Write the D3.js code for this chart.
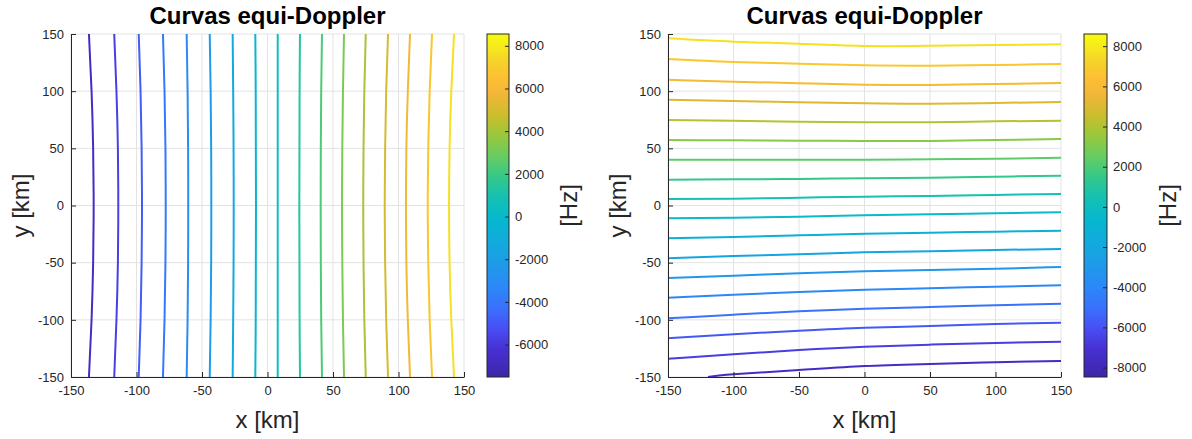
<!DOCTYPE html>
<html>
<head>
<meta charset="utf-8">
<script src="https://d3js.org/d3.v7.min.js"></script>
<style>
  body { margin: 0; background: #fff; }
  text { font-family: "Liberation Sans", Arial, Helvetica, sans-serif; fill: #262626; }
</style>
</head>
<body>
<svg id="chart" width="1192" height="439"></svg>
<script>
// ---- data ----
const axisTicks = [-150, -100, -50, 0, 50, 100, 150];

// left panel: near-vertical equi-Doppler curves, x [km] sampled at these y [km]
const leftYs = [150, 100, 50, 0, -50, -100, -150];
const leftLevels = [-6625, -5732, -4839, -3946, -3053, -2160, -1267, -374, 519,
                    1412, 2305, 3198, 4091, 4984, 5877, 6770, 7663];
const leftXs = [
  [-136.3, -134.3, -133.1, -132.7, -133.1, -134.3, -136.3],
  [-117.0, -115.3, -114.2, -113.9, -114.2, -115.3, -117.0],
  [-98.3, -96.9, -96.1, -95.8, -96.1, -96.9, -98.3],
  [-79.8, -78.6, -77.9, -77.7, -77.9, -78.6, -79.8],
  [-61.7, -61.0, -60.6, -60.5, -60.6, -61.0, -61.7],
  [-44.1, -43.4, -43.0, -42.9, -43.0, -43.4, -44.1],
  [-26.6, -26.2, -25.9, -25.8, -25.9, -26.2, -26.6],
  [-9.3, -9.0, -8.9, -8.8, -8.9, -9.0, -9.3],
  [7.8, 7.8, 7.8, 7.8, 7.8, 7.8, 7.8],
  [24.8, 24.5, 24.4, 24.3, 24.4, 24.5, 24.8],
  [41.6, 41.0, 40.7, 40.6, 40.7, 41.0, 41.6],
  [58.4, 57.6, 57.1, 56.9, 57.1, 57.6, 58.4],
  [75.0, 73.9, 73.3, 73.1, 73.3, 73.9, 75.0],
  [92.0, 90.6, 89.8, 89.5, 89.8, 90.6, 92.0],
  [108.8, 107.1, 106.0, 105.7, 106.0, 107.1, 108.8],
  [125.6, 123.8, 122.7, 122.3, 122.7, 123.8, 125.6],
  [142.4, 140.3, 139.0, 138.6, 139.0, 140.3, 142.4]
];
const leftRange = [-7518, 8553];
const leftCbTicks = [-6000, -4000, -2000, 0, 2000, 4000, 6000, 8000];

// right panel: near-horizontal curves, y [km] sampled at these x [km]
const rightXs = [-150, -100, -50, 0, 50, 100, 150];
const rightLevels = [7710, 6811, 5912, 5014, 4115, 3216, 2317, 1419, 520,
                     -379, -1278, -2177, -3075, -3974, -4873, -5772, -6670];
const rightYs = [
  [146.2, 143.3, 141.5, 139.5, 139.7, 140.4, 141.0],
  [128.1, 125.5, 124.0, 122.6, 122.3, 122.9, 123.8],
  [110.0, 108.3, 106.9, 105.7, 105.4, 106.3, 107.1],
  [92.5, 91.4, 90.2, 89.4, 89.0, 89.7, 90.5],
  [74.8, 74.2, 73.3, 72.8, 72.8, 73.6, 74.2],
  [57.3, 57.0, 56.7, 56.4, 56.4, 57.3, 58.2],
  [40.1, 40.1, 40.1, 40.1, 40.4, 40.9, 41.8],
  [22.6, 22.9, 23.2, 23.8, 24.3, 25.2, 26.1],
  [5.7, 6.0, 6.8, 7.7, 8.3, 9.2, 10.1],
  [-11.2, -10.7, -9.8, -8.6, -7.7, -6.8, -5.9],
  [-28.7, -27.5, -26.1, -24.7, -23.8, -22.9, -22.0],
  [-46.2, -44.2, -42.7, -40.9, -40.0, -38.9, -38.0],
  [-63.4, -61.4, -59.3, -57.5, -56.4, -55.3, -53.8],
  [-80.6, -78.0, -75.6, -73.6, -72.4, -71.0, -69.8],
  [-98.7, -95.5, -92.5, -90.3, -88.8, -87.3, -85.9],
  [-116.1, -112.6, -109.5, -106.9, -105.4, -103.6, -102.5],
  [-134.0, -130.1, -126.4, -123.5, -121.7, -120.3, -119.1]
];
// lowest curve enters through the bottom edge
const rightLastLevel = -7569;
const rightLastXs = [-119.5, -100, -50, 0, 50, 100, 150];
const rightLastYs = [-150, -147.6, -143.9, -140.4, -138.6, -137.1, -136.0];
const rightRange = [-8468, 8607];
const rightCbTicks = [-8000, -6000, -4000, -2000, 0, 2000, 4000, 6000, 8000];

// parula-like colormap
const cmapPos = [0, 0.08, 0.14, 0.20, 0.26, 0.33, 0.40, 0.46, 0.52, 0.58, 0.64, 0.70, 0.76, 0.82, 0.87, 0.92, 0.96, 1];
const cmapColors = ["#3e26a8", "#4630d2", "#484ef4", "#3a70fc", "#2c87f8", "#1e9be8", "#10acdc", "#06b8ce",
                    "#14c0b4", "#32c88c", "#64cc64", "#96c83e", "#c8be2c", "#f0b638", "#fdbe34", "#f6d228",
                    "#f6e81e", "#f9fb0e"];

// ---- layout ----
const panels = [
  {x0: 71, x1: 464, cb0: 487, cb1: 509, yLab: 20, cbLab: 568, kind: "v", range: leftRange, cbTicks: leftCbTicks},
  {x0: 668, x1: 1061, cb0: 1084, cb1: 1107, yLab: 617, cbLab: 1167, kind: "h", range: rightRange, cbTicks: rightCbTicks}
];
const TOP = 34, BOTTOM = 377;

const svg = d3.select("#chart");
const cmap = d3.scaleLinear().domain(cmapPos).range(cmapColors).interpolate(d3.interpolateRgb);

panels.forEach((p, pi) => {
  const x = d3.scaleLinear().domain([-150, 150]).range([p.x0, p.x1]);
  const y = d3.scaleLinear().domain([-150, 150]).range([BOTTOM, TOP]);
  const norm = d3.scaleLinear().domain(p.range).range([0, 1]);
  const g = svg.append("g");

  // grid
  g.append("g").selectAll("line").data(axisTicks).join("line")
    .attr("x1", d => x(d)).attr("x2", d => x(d)).attr("y1", TOP).attr("y2", BOTTOM)
    .attr("stroke", "#e3e3e3");
  g.append("g").selectAll("line").data(axisTicks).join("line")
    .attr("y1", d => y(d)).attr("y2", d => y(d)).attr("x1", p.x0).attr("x2", p.x1)
    .attr("stroke", "#e3e3e3");

  // contours
  g.append("clipPath").attr("id", "clip" + pi).append("rect")
    .attr("x", p.x0).attr("y", TOP).attr("width", p.x1 - p.x0).attr("height", BOTTOM - TOP);
  const line = d3.line().x(d => x(d[0])).y(d => y(d[1])).curve(d3.curveNatural);
  let curves;
  if (p.kind === "v") {
    curves = leftXs.map((xs, i) => ({level: leftLevels[i], pts: xs.map((v, j) => [v, leftYs[j]])}));
  } else {
    curves = rightYs.map((ys, i) => ({level: rightLevels[i], pts: ys.map((v, j) => [rightXs[j], v])}));
    curves.push({level: rightLastLevel, pts: rightLastXs.map((v, j) => [v, rightLastYs[j]])});
  }
  g.append("g").attr("clip-path", `url(#clip${pi})`)
    .selectAll("path").data(curves).join("path")
    .attr("d", d => line(d.pts))
    .attr("fill", "none")
    .attr("stroke", d => cmap(norm(d.level)))
    .attr("stroke-width", 2);

  // axes
  const xAxis = g.append("g").attr("transform", `translate(0,${BOTTOM})`)
    .call(d3.axisBottom(x).tickValues(axisTicks).tickSize(-5).tickSizeOuter(0).tickPadding(9).tickFormat(d => String(d)));
  const yAxis = g.append("g").attr("transform", `translate(${p.x0},0)`)
    .call(d3.axisLeft(y).tickValues(axisTicks).tickSize(-5).tickSizeOuter(0).tickPadding(7).tickFormat(d => String(d)));
  [xAxis, yAxis].forEach(a => {
    a.select(".domain").attr("stroke", "#262626");
    a.selectAll(".tick line").attr("stroke", "#262626");
    a.selectAll("text").attr("font-size", 13).attr("fill", "#262626")
      .style("font-family", '"Liberation Sans", Arial, sans-serif');
  });

  // title and labels
  g.append("text").attr("x", (p.x0 + p.x1) / 2).attr("y", 24)
    .attr("text-anchor", "middle").attr("font-weight", "bold").attr("font-size", 24)
    .style("fill", "#000")
    .text("Curvas equi-Doppler");
  g.append("text").attr("x", (p.x0 + p.x1) / 2).attr("y", 428)
    .attr("text-anchor", "middle").attr("font-size", 24)
    .text("x [km]");
  g.append("text").attr("transform", `translate(${p.yLab},${(TOP + BOTTOM) / 2}) rotate(-90)`)
    .attr("text-anchor", "middle").attr("dominant-baseline", "central").attr("font-size", 24)
    .text("y [km]");

  // colorbar
  const gradId = "grad" + pi;
  const grad = svg.append("defs").append("linearGradient").attr("id", gradId)
    .attr("x1", 0).attr("y1", 1).attr("x2", 0).attr("y2", 0);
  grad.selectAll("stop").data(cmapPos).join("stop")
    .attr("offset", d => d).attr("stop-color", (d, i) => cmapColors[i]);
  g.append("rect").attr("x", p.cb0).attr("y", TOP).attr("width", p.cb1 - p.cb0).attr("height", BOTTOM - TOP)
    .attr("fill", `url(#${gradId})`).attr("stroke", "#262626").attr("stroke-width", 1);
  const cbScale = d3.scaleLinear().domain(p.range).range([BOTTOM, TOP]);
  const cbAxis = g.append("g").attr("transform", `translate(${p.cb1},0)`)
    .call(d3.axisRight(cbScale).tickValues(p.cbTicks).tickSize(-4).tickSizeOuter(0).tickPadding(6).tickFormat(d => String(d)));
  cbAxis.select(".domain").remove();
  cbAxis.selectAll(".tick line").attr("stroke", "#262626");
  cbAxis.selectAll("text").attr("font-size", 13).attr("fill", "#262626")
    .style("font-family", '"Liberation Sans", Arial, sans-serif');
  g.append("text").attr("transform", `translate(${p.cbLab},${(TOP + BOTTOM) / 2}) rotate(-90)`)
    .attr("text-anchor", "middle").attr("dominant-baseline", "central").attr("font-size", 24)
    .text("[Hz]");
});
</script>
</body>
</html>
